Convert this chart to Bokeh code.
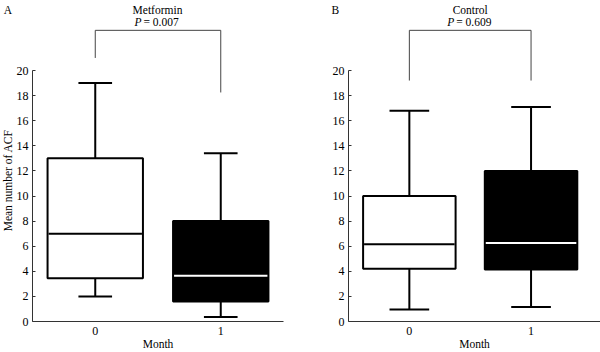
import math
from bokeh.plotting import figure
from bokeh.layouts import row, column
from bokeh.models import Range1d, FixedTicker
from bokeh.core.properties import value
from bokeh.embed import file_html
from bokeh.resources import INLINE

# ---- data ----
months = [0, 1]
month_labels = ["0", "1"]

met_min = [2.0, 0.35]
met_q1 = [3.45, 1.6]
met_med = [7.0, 3.65]
met_q3 = [13.0, 8.0]
met_max = [19.0, 13.4]

ctl_min = [0.95, 1.15]
ctl_q1 = [4.2, 4.15]
ctl_med = [6.15, 6.25]
ctl_q3 = [10.0, 12.0]
ctl_max = [16.8, 17.1]

groups = ["Metformin", "Control"]
p_values = [0.007, 0.609]
panel_letters = ["A", "B"]
y_label = "Mean number of ACF"
x_label = "Month"
y_ticks = list(range(0, 21, 2))

FONT = "Liberation Serif"
box_fill = ["white", "black"]
median_col = ["black", "white"]

W, H = 600, 352
STRIP_H = 27          # strip on top: panel letters, group names, P values
LEFT_W = 13           # strip on the left: y-axis label
BOTTOM = 31
PX_PER_UNIT = 12.55
FRAME_H = H - STRIP_H - BOTTOM
Y_END = FRAME_H / PX_PER_UNIT

# panel geometry (pixels in the whole picture)
A_FRAME_LEFT, A_FRAME_RIGHT = 31, 283
B_FRAME_LEFT, B_FRAME_RIGHT = 348, 600
B_UNIT = 121.7
A_XEND = 1.5
B_XEND = -0.5 + (B_FRAME_RIGHT - B_FRAME_LEFT) / B_UNIT
BRACKET_TOP = 23.2


def style_text(**kw):
    d = dict(text_font=value(FONT), text_font_size="11.5px", text_color="black")
    d.update(kw)
    return d


def panel(mn, q1, med, q3, mx, width, border_left, border_right, xend,
          cap_half, bracket_ends):
    p = figure(width=width, height=H - STRIP_H, output_backend="svg",
               toolbar_location=None, title=None,
               x_range=Range1d(-0.5, xend), y_range=Range1d(0, Y_END),
               min_border_left=border_left, min_border_right=border_right,
               min_border_top=0, min_border_bottom=BOTTOM)
    p.outline_line_color = None
    p.xgrid.grid_line_color = None
    p.ygrid.grid_line_color = None

    p.xaxis.ticker = FixedTicker(ticks=months)
    p.xaxis.major_label_overrides = {m: l for m, l in zip(months, month_labels)}
    p.xaxis.major_tick_out = 0
    p.xaxis.major_tick_in = 0
    p.xaxis.minor_tick_line_color = None
    p.xaxis.axis_label = x_label
    p.xaxis.major_label_standoff = 5
    p.xaxis.axis_label_standoff = 0

    p.yaxis.ticker = FixedTicker(ticks=y_ticks)
    p.yaxis.bounds = (0, 20)
    p.yaxis.major_tick_out = 0
    p.yaxis.major_tick_in = 3
    p.yaxis.minor_tick_line_color = None
    p.yaxis.major_label_standoff = 4

    for ax in [p.xaxis[0], p.yaxis[0]]:
        ax.axis_line_color = "#333333"
        ax.major_tick_line_color = "#333333"
        ax.major_label_text_font = FONT
        ax.major_label_text_font_size = "12px"
        ax.major_label_text_color = "black"
        ax.axis_label_text_font = FONT
        ax.axis_label_text_font_size = "11.5px"
        ax.axis_label_text_font_style = "normal"
        ax.axis_label_text_color = "black"

    # whiskers
    p.segment(x0=months, y0=q3, x1=months, y1=mx, line_color="black", line_width=2)
    p.segment(x0=months, y0=mn, x1=months, y1=q1, line_color="black", line_width=2)
    # caps
    xl = [m - cap_half for m in months]
    xr = [m + cap_half for m in months]
    p.segment(x0=xl, y0=mx, x1=xr, y1=mx, line_color="black", line_width=2)
    p.segment(x0=xl, y0=mn, x1=xr, y1=mn, line_color="black", line_width=2)
    # boxes
    p.vbar(x=months, width=0.76, bottom=q1, top=q3, fill_color=box_fill,
           line_color="black", line_width=2)
    # medians
    hw = 0.372
    p.segment(x0=[m - hw for m in months], y0=med, x1=[m + hw for m in months], y1=med,
              line_color=median_col, line_width=2)

    # significance bracket
    p.line(x=[0, 0, 1, 1], y=[bracket_ends[0], BRACKET_TOP, BRACKET_TOP, bracket_ends[1]],
           line_color="#444444", line_width=1)
    return p


# --- top strip: panel letters, group names, P values ---
top = figure(width=W, height=STRIP_H, output_backend="svg", toolbar_location=None,
             title=None,
             x_range=Range1d(0, W), y_range=Range1d(STRIP_H, 0),
             x_axis_type=None, y_axis_type=None,
             min_border_left=0, min_border_right=0, min_border_top=0, min_border_bottom=0)
top.outline_line_color = None
top.grid.visible = False
centers = [(A_FRAME_LEFT + A_FRAME_RIGHT) / 2, B_FRAME_LEFT + B_UNIT]
top.text(x=[3.3, 331], y=[9.4, 9.4], text=panel_letters, text_align="left",
         text_baseline="alphabetic", **style_text())
top.text(x=centers, y=[9.4, 9.4], text=groups, text_align="center",
         text_baseline="alphabetic", **style_text())
top.text(x=centers, y=[21.4, 21.4], text=["P", "P"], text_align="right", x_offset=-16,
         text_baseline="alphabetic", text_font_style="italic", **style_text())
top.text(x=centers, y=[21.4, 21.4], text=[f"= {v:.3f}" for v in p_values],
         text_align="left", x_offset=-14, text_baseline="alphabetic", **style_text())

# --- left strip: y-axis label ---
left = figure(width=LEFT_W, height=H - STRIP_H, output_backend="svg",
              toolbar_location=None, title=None,
              x_range=Range1d(0, LEFT_W), y_range=Range1d(H - STRIP_H, 0),
              x_axis_type=None, y_axis_type=None,
              min_border_left=0, min_border_right=0, min_border_top=0, min_border_bottom=0)
left.outline_line_color = None
left.grid.visible = False
left.text(x=[7], y=[196 - STRIP_H], text=[y_label], angle=math.pi / 2,
          text_align="center", text_baseline="middle", **style_text())

pa = panel(met_min, met_q1, met_med, met_q3, met_max, 300 - LEFT_W,
           A_FRAME_LEFT - LEFT_W, 300 - A_FRAME_RIGHT, A_XEND, 0.134, (21.0, 18.25))
pb = panel(ctl_min, ctl_q1, ctl_med, ctl_q3, ctl_max, 300,
           B_FRAME_LEFT - 300, 0, B_XEND, 0.163, (19.2, 19.2))

layout = column(top, row(left, pa, pb))
open("out.html", "w").write(file_html(layout, INLINE))
